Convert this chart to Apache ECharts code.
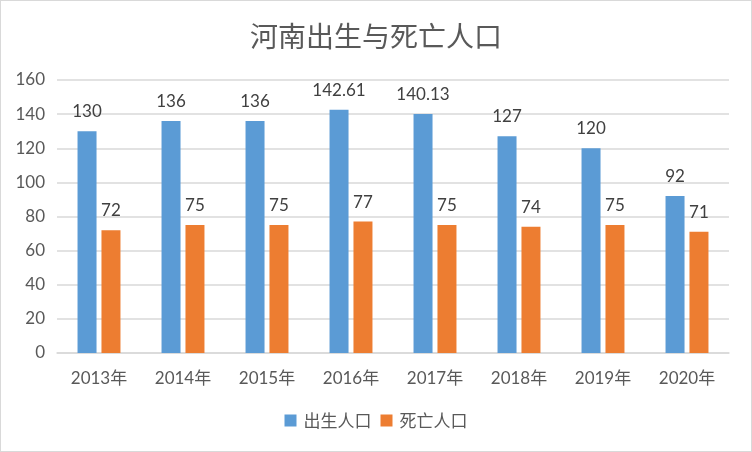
<!DOCTYPE html>
<html><head><meta charset="utf-8">
<script src="https://cdn.jsdelivr.net/npm/echarts@6/dist/echarts.min.js"></script>
<style>html,body{margin:0;padding:0;background:#fff}#c{width:750px;height:450px;border:1px solid #d9d9d9}</style>
</head><body><div id="c"></div>
<script>
const categories = ['2013年','2014年','2015年','2016年','2017年','2018年','2019年','2020年'];
const births = [130,136,136,142.61,140.13,127,120,92];
const deaths = [72,75,75,77,75,74,75,71];
const font = 'Lato, "Noto Sans CJK SC", sans-serif';
const chart = echarts.init(document.getElementById('c'));
chart.setOption({
  animation:false,
  title:{text:'河南出生与死亡人口',left:'center',top:16,textStyle:{fontFamily:'"Noto Sans CJK SC", sans-serif',fontSize:28,fontWeight:'normal',color:'#595959'}},
  legend:{bottom:17,left:'center',itemWidth:12,itemHeight:12,itemGap:9,icon:'rect',textStyle:{fontFamily:'"Noto Sans CJK SC", sans-serif',fontSize:17,color:'#595959',padding:[0,0,0,2]}},
  grid:{left:56,right:22,top:79,bottom:98},
  xAxis:{type:'category',data:categories,axisTick:{show:false},axisLine:{lineStyle:{color:'#d9d9d9',width:1.5}},
    axisLabel:{fontFamily:font,fontSize:17,color:'#595959',margin:17}},
  yAxis:{type:'value',min:0,max:160,interval:20,axisLine:{show:false},axisTick:{show:false},
    splitLine:{lineStyle:{color:'#d9d9d9',width:1.5}},axisLabel:{fontFamily:font,fontSize:17,color:'#595959',margin:12}},
  series:[
    {name:'出生人口',type:'bar',data:births,barWidth:19,barGap:'26%',itemStyle:{color:'#5b9bd5'},
      label:{show:true,position:'top',distance:11,fontFamily:font,fontSize:17,color:'#404040'}},
    {name:'死亡人口',type:'bar',data:deaths,barWidth:19,itemStyle:{color:'#ed7d31'},
      label:{show:true,position:'top',distance:11,fontFamily:font,fontSize:17,color:'#404040'}}
  ]
});
</script></body></html>
